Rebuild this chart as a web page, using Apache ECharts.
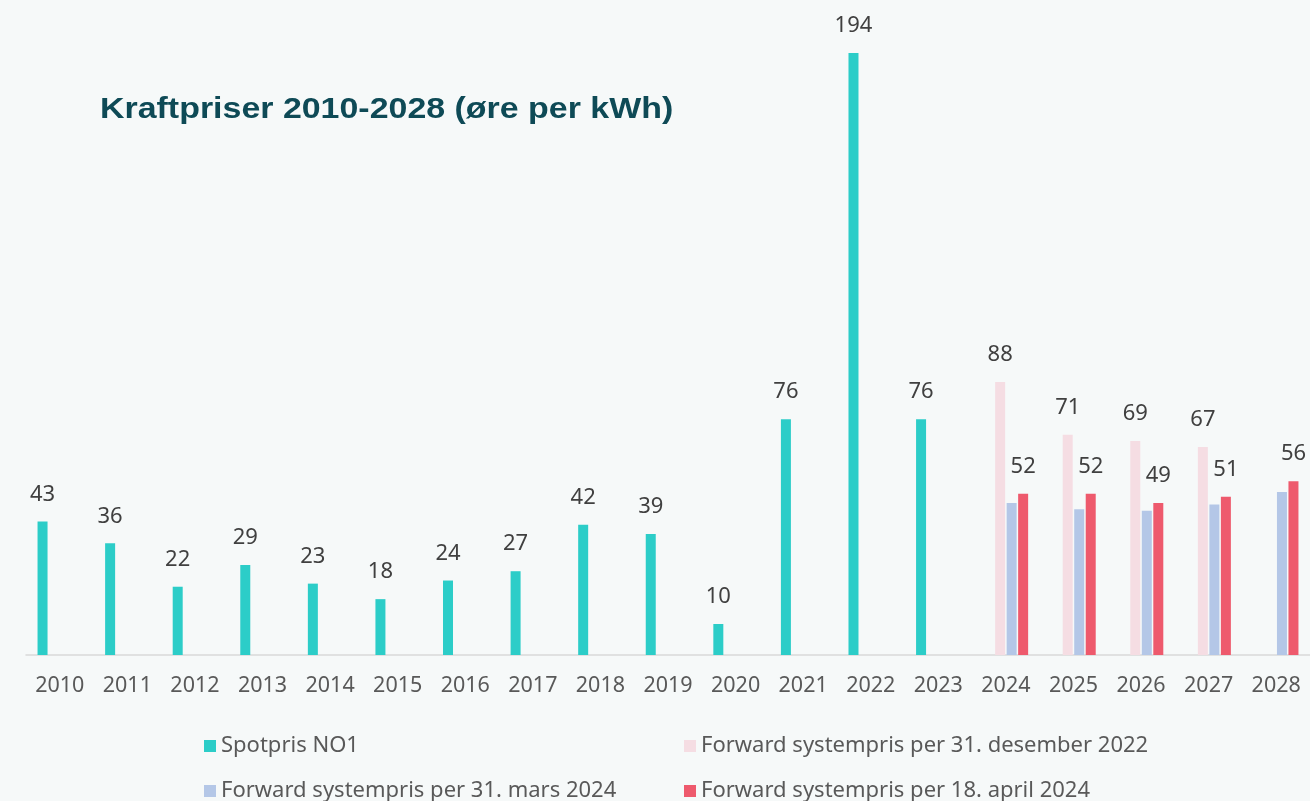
<!DOCTYPE html>
<html>
<head>
<meta charset="utf-8">
<script src="https://cdn.jsdelivr.net/npm/echarts@6/dist/echarts.min.js"></script>
<style>
html,body{margin:0;padding:0;background:#f6f9f9;}
#chart{width:1310px;height:801px;}
</style>
</head>
<body>
<div id="chart"></div>
<script>
const years = ['2010','2011','2012','2013','2014','2015','2016','2017','2018','2019','2020','2021','2022','2023','2024','2025','2026','2027','2028'];
const spotNO1 = [43,36,22,29,23,18,24,27,42,39,10,76,194,76,null,null,null,null,null];
const fwdDes2022 = [null,null,null,null,null,null,null,null,null,null,null,null,null,null,88,71,69,67,null];
const fwdMar2024 = [null,null,null,null,null,null,null,null,null,null,null,null,null,null,49,47,46.5,48.5,52.5];
const fwdApr2024 = [null,null,null,null,null,null,null,null,null,null,null,null,null,null,52,52,49,51,56];
const seriesNames = ['Spotpris NO1','Forward systempris per 31. desember 2022','Forward systempris per 31. mars 2024','Forward systempris per 18. april 2024'];
const titleText = 'Kraftpriser 2010-2028 (øre per kWh)';
const colors = ['#2ccdc8','#f5dde3','#b4c7e7','#ee5a6d'];

const chart = echarts.init(document.getElementById('chart'), null, {renderer:'canvas'});
const FONT = 'Noto Sans';
const labelCfg = {
  show: true, position: 'top', distance: 16,
  fontFamily: FONT, fontSize: 22, color: '#404040',
  formatter: p => Math.round(p.value)
};
function mk(i, data, showLabel){
  return {
    name: seriesNames[i], type: 'bar', data: data,
    barWidth: 10, barGap: '15%',
    itemStyle: {color: colors[i]},
    label: showLabel ? labelCfg : {show:false},
    emphasis: {disabled:true}
  };
}
const legendPos = [[199,730],[679,730],[199,775],[679,775]];
chart.setOption({
  backgroundColor: '#f6f9f9',
  animation: false,
  color: colors,
  graphic: [{
    type:'text', x:100, y:94, scaleX:1.15, scaleY:1.02,
    style:{text:titleText, font:'bold 29.5px "Liberation Sans"', fill:'#0e4a56', verticalAlign:'top', align:'left'}
  }],
  legend: legendPos.map((p,i)=>({
    data:[seriesNames[i]], left:p[0], top:p[1],
    icon:'rect', itemWidth:12, itemHeight:12, itemGap:8,
    textStyle:{fontFamily:FONT, fontSize:22, color:'#595959'},
    selectedMode:false
  })),
  grid: {left:26, right:-5, top:34.4, bottom:146, containLabel:false},
  xAxis: {
    type:'category', data: years,
    axisTick:{show:false},
    axisLine:{lineStyle:{color:'#d9d9d9', width:1.5}},
    axisLabel:{interval:0, margin:20, fontFamily:FONT, fontSize:21.5, color:'#595959'}
  },
  yAxis: {type:'value', min:0, max:200, show:false, splitLine:{show:false}},
  series: [
    mk(0, spotNO1, true),
    mk(1, fwdDes2022, true),
    mk(2, fwdMar2024, false),
    mk(3, fwdApr2024, true)
  ]
});
</script>
</body>
</html>
